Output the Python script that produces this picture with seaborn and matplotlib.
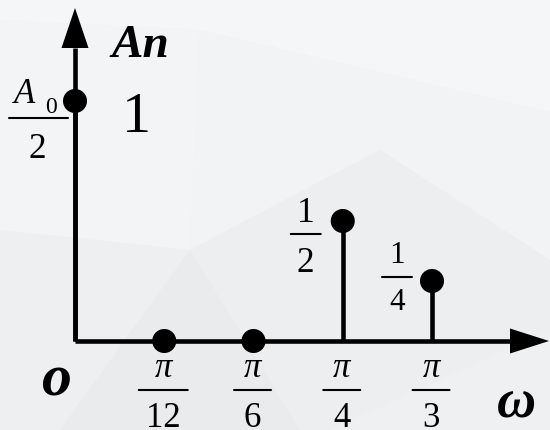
import os
import numpy as np
import pandas as pd
import matplotlib
matplotlib.use("Agg")
import matplotlib.pyplot as plt
import matplotlib.transforms as mtransforms
from matplotlib.patches import Polygon
from matplotlib.font_manager import FontProperties, findfont
import seaborn as sns

# Amplitude spectrum: frequencies (rad) and amplitudes
omega = [0.0, np.pi / 12, np.pi / 6, np.pi / 4, np.pi / 3]
amplitude = [1.0, 0.0, 0.0, 0.5, 0.25]

# Tick labels under the frequency axis (numerator / denominator)
tick_num = ["π", "π", "π", "π"]
tick_den = ["12", "6", "4", "3"]

# Fractions written beside the nonzero stems
value_num = ["1", "1"]
value_den = ["2", "4"]

sns.set_style("white")
plt.rcParams["text.color"] = "black"

# Times-like serif faces, loaded by file
_regular = findfont(FontProperties(family="Liberation Serif"))
_dir = os.path.dirname(_regular)

def face(variant):
    path = os.path.join(_dir, f"LiberationSerif-{variant}.ttf")
    return path if os.path.exists(path) else _regular

FACES = {"regular": face("Regular"), "italic": face("Italic"),
         "bolditalic": face("BoldItalic")}

def fp(kind, size):
    return FontProperties(fname=FACES[kind], size=size)

W, H, DPI = 550, 430, 100
fig = plt.figure(figsize=(W / DPI, H / DPI), dpi=DPI)
fig.patch.set_facecolor("#f0f1f3")

# faint low-poly backdrop
def fpoly(pts, color):
    fig.add_artist(Polygon([(x / W, 1 - y / H) for x, y in pts], closed=True,
                           facecolor=color, edgecolor="none",
                           transform=fig.transFigure, zorder=0))

fpoly([(0, 0), (550, 0), (550, 112), (200, 30), (0, 20)], "#f5f6f8")
fpoly([(200, 30), (550, 112), (550, 260), (380, 150), (190, 250)], "#f2f3f5")
fpoly([(0, 20), (200, 30), (190, 250), (0, 230)], "#f3f4f6")
fpoly([(0, 230), (190, 250), (60, 430), (0, 430)], "#eeeff1")
fpoly([(190, 250), (380, 150), (550, 260), (550, 330), (330, 430), (60, 430)], "#edeef0")
fpoly([(190, 250), (300, 430), (60, 430)], "#eaebed")
fpoly([(550, 330), (550, 430), (330, 430)], "#eff0f2")

ax = fig.add_axes([0, 0, 1, 1])
ax.set_facecolor("none")

# pixel geometry of the drawing area
X0, UNIT_PX = 75.0, 89.25          # origin column, pixels per pi/12
Y0, AMP_PX = 341.0, 240.0          # axis row, pixels per unit amplitude
U = np.pi / 12

def px(x, y):
    return (x - X0) / UNIT_PX * U, (Y0 - y) / AMP_PX

xl0, _ = px(0, 0)
xl1, _ = px(W, 0)
_, yl0 = px(0, H)
_, yl1 = px(0, 0)
ax.set_xlim(xl0, xl1)
ax.set_ylim(yl0, yl1)
ax.axis("off")

LW = 3.3
# axes lines with arrow heads
ytip = px(75, 8)[1]
ybase = px(75, 48)[1]
xtip = px(549, 0)[0]
xbase = px(510, 0)[0]
ax.plot([0, 0], [0, ybase], color="black", lw=LW, solid_capstyle="butt", zorder=3)
ax.plot([0, xbase], [0, 0], color="black", lw=LW, solid_capstyle="butt", zorder=3)
hw = 13.5 / UNIT_PX * U
ax.add_patch(Polygon([(-hw, ybase), (hw, ybase), (0, ytip)], closed=True,
                     facecolor="black", edgecolor="none", zorder=3))
hh = 12.5 / AMP_PX
ax.add_patch(Polygon([(xbase, -hh), (xbase, hh), (xtip, 0)], closed=True,
                     facecolor="black", edgecolor="none", zorder=3))

# stems and their heads
df = pd.DataFrame({"omega": omega, "amplitude": amplitude})
ax.vlines(df["omega"], 0, df["amplitude"], color="black", lw=LW, zorder=4)
sns.scatterplot(data=df, x="omega", y="amplitude", ax=ax, s=300,
                color="black", edgecolor="none", zorder=5, clip_on=False,
                legend=False)

def off(dx, dy):
    return mtransforms.offset_copy(ax.transData, fig=fig, x=dx, y=-dy, units="dots")

def label(x, y, s, dx, dy, size, kind="regular", ha="center"):
    ax.text(x, y, s, transform=off(dx, dy), ha=ha, va="baseline",
            fontproperties=fp(kind, size), color="black", zorder=6)

def hbar(x, y, dx0, dx1, dy):
    ax.annotate("", xy=(x, y), xycoords=off(dx1, dy),
                xytext=(x, y), textcoords=off(dx0, dy),
                arrowprops=dict(arrowstyle="-", lw=1.5, color="black",
                                shrinkA=0, shrinkB=0), zorder=6)

def fraction(x, y, dx, num, den, size, half, line_dy, num_dy, den_dy, num_kind="regular"):
    """Stacked fraction centred dx pixels from (x, y); pixel offsets measured downwards."""
    label(x, y, num, dx, num_dy, size, kind=num_kind)
    hbar(x, y, dx - half, dx + half, line_dy)
    label(x, y, den, dx, den_dy, size)

# frequency tick labels
for w, n, d in zip(omega[1:], tick_num, tick_den):
    half = 24.5 if len(d) == 2 else 18.5
    fraction(w, 0, -1, n, d, 25, half, 49, 36, 86, num_kind="italic")

# value fractions beside the stems at pi/4 and pi/3
fraction(omega[3], amplitude[3], -37, value_num[0], value_den[0], 25.5, 15, 13, 1, 51)
fraction(omega[4], amplitude[4], -35, value_num[1], value_den[1], 22.5, 15, -4, -18, 29)

# DC component: A0/2 = 1
x0, y0 = omega[0], amplitude[0]
label(x0, y0, "A", -61, 2, 25, kind="italic", ha="left")
label(x0, y0, "0", -30, 12, 17, ha="left")
hbar(x0, y0, -66, -7, 17)
label(x0, y0, "2", -38, 57, 25.5)
label(x0, y0, "1", 61, 31, 42)

# axis names and origin
ax.text(*px(111, 57), "An", ha="left", va="baseline",
        fontproperties=fp("bolditalic", 34), color="black", zorder=6)
ax.text(*px(56, 396), "o", ha="center", va="baseline",
        fontproperties=fp("bolditalic", 43), color="black", zorder=6)
ax.text(*px(516, 417), "ω", ha="center", va="baseline",
        fontproperties=fp("bolditalic", 39), color="black", zorder=6)

fig.savefig("out.png", dpi=DPI, facecolor=fig.get_facecolor())
